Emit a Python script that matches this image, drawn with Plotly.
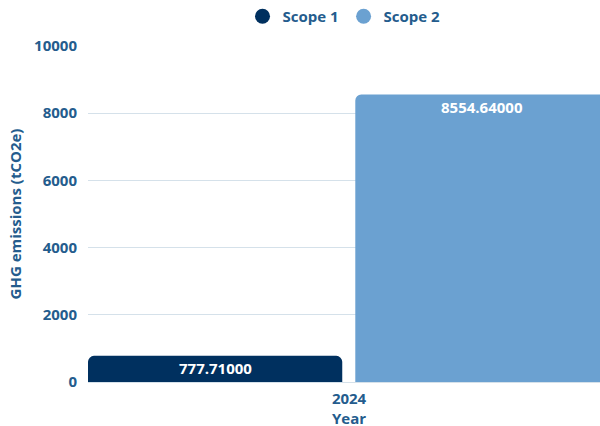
import plotly.graph_objects as go

years = ["2024"]
scope1 = [777.71]
scope2 = [8554.64]
series_names = ["Scope 1", "Scope 2"]
colors = ["#00305F", "#6BA1D1"]
yticks = [0, 2000, 4000, 6000, 8000, 10000]
x_title = "Year"
y_title = "GHG emissions (tCO2e)"

label_color = "#245C8D"
font_family = "Open Sans, Noto Sans, sans-serif"

fig = go.Figure()
bar_w = 0.487
gap = 0.025
offsets = [-0.5, -0.5 + bar_w + gap]
for name, vals, col, off in zip(series_names, [scope1, scope2], colors, offsets):
    fig.add_trace(go.Bar(
        x=years, y=vals, name=name, marker=dict(color=col, line=dict(width=0)),
        width=bar_w, offset=off, showlegend=False, cliponaxis=True,
    ))
    fig.add_trace(go.Scatter(
        x=[None], y=[None], mode="markers", name=name,
        marker=dict(color=col, size=15, symbol="circle"),
    ))
    # value labels centred on each (full) bar, just below its top
    for i, v in enumerate(vals):
        fig.add_annotation(
            x=i + off + bar_w / 2, y=v, xref="x", yref="y",
            text=f"{v:.5f}", showarrow=False, yanchor="top", yshift=0,
            font=dict(color="white", size=15, family=font_family, weight="bold"),
        )

# x-axis title, centred under the category
fig.add_annotation(
    x=0, y=0, xref="x", yref="paper", text=x_title, showarrow=False,
    yanchor="middle", yshift=-36,
    font=dict(size=15, color=label_color, family=font_family, weight="bold"),
)

fig.update_layout(
    width=600, height=426,
    margin=dict(l=88, r=0, t=45, b=44),
    paper_bgcolor="white", plot_bgcolor="white",
    barmode="overlay",
    barcornerradius=6,
    font=dict(family=font_family, color=label_color, size=15, weight="bold"),
    legend=dict(orientation="h", x=0.5, xanchor="center", y=1.137, yanchor="top",
                font=dict(size=15, color=label_color, weight="bold"),
                itemsizing="trace", itemwidth=30),
)
fig.update_xaxes(
    type="category", range=[-0.5, 0.4807], automargin=False,
    tickfont=dict(size=15, color=label_color, weight="bold"),
    showgrid=False, zeroline=False, showline=False,
    ticks="outside", ticklen=3, tickcolor="rgba(0,0,0,0)",
)
fig.update_yaxes(
    range=[0, 10000], tickvals=yticks, ticktext=[str(t) for t in yticks],
    title=dict(text=y_title, font=dict(size=15, color=label_color, weight="bold"), standoff=8),
    tickfont=dict(size=15, color=label_color, weight="bold"),
    showgrid=True, gridcolor="#D5E1EA", gridwidth=1,
    zeroline=True, zerolinecolor="#D5E1EA", zerolinewidth=1,
    ticks="outside", ticklen=7, tickcolor="rgba(0,0,0,0)",
)

fig.write_html("out.html", config={"displayModeBar": False},
               post_script="document.body.style.margin='0';document.body.style.overflow='hidden';")
